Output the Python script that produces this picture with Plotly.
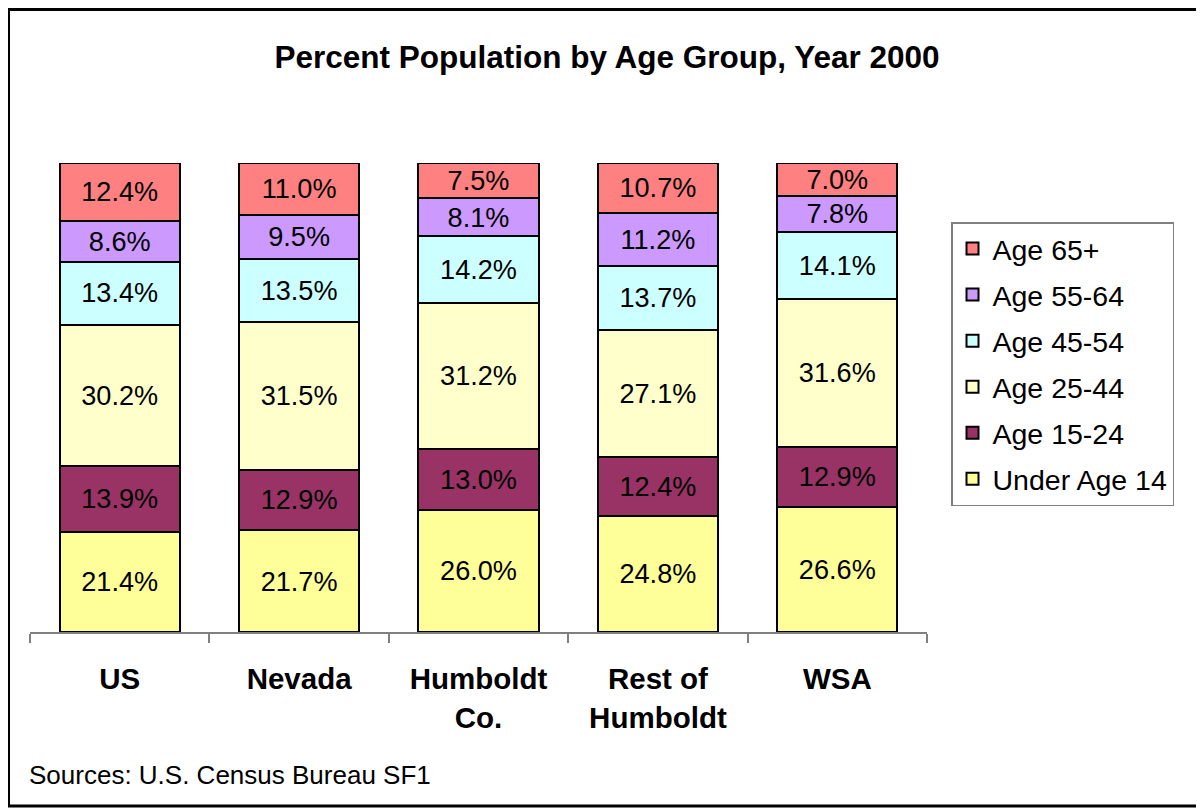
import plotly.graph_objects as go

categories = ["US", "Nevada", "Humboldt<br>Co.", "Rest of<br>Humboldt", "WSA"]
series_names = ["Under Age 14", "Age 15-24", "Age 25-44", "Age 45-54", "Age 55-64", "Age 65+"]
under_14 = [21.4, 21.7, 26.0, 24.8, 26.6]
age_15_24 = [13.9, 12.9, 13.0, 12.4, 12.9]
age_25_44 = [30.2, 31.5, 31.2, 27.1, 31.6]
age_45_54 = [13.4, 13.5, 14.2, 13.7, 14.1]
age_55_64 = [8.6, 9.5, 8.1, 11.2, 7.8]
age_65_plus = [12.4, 11.0, 7.5, 10.7, 7.0]
colors = ["#FFFF99", "#993366", "#FFFFCC", "#CCFFFF", "#CC99FF", "#FF8080"]

series_values = [under_14, age_15_24, age_25_44, age_45_54, age_55_64, age_65_plus]

FONT = "Liberation Sans, Arial, sans-serif"
W, H = 1204, 809
OFF = 8  # page body margin offset
# screen-space plot area
SX0, SX1, SY0, SY1 = 30, 927, 163, 632
L = SX0 - OFF
R = W - (SX1 - OFF)
T = SY0 - OFF
B = H - (SY1 - OFF)
PW = SX1 - SX0
PH = SY1 - SY0

def px_x(p):
    return (p - SX0) / PW

def px_y(p):
    return (SY1 - p) / PH

fig = go.Figure()
n = len(series_names)
for i, (name, vals, col) in enumerate(zip(series_names, series_values, colors)):
    fig.add_trace(go.Bar(
        x=categories, y=vals, name=name,
        marker=dict(color=col, line=dict(color="black", width=2)),
        text=[f"{v:.1f}%" for v in vals], texttemplate="%{text}",
        textposition="inside", insidetextanchor="middle", textangle=0,
        textfont=dict(family=FONT, size=27.5, color="black"),
        legendgroup=name, legendrank=1000 + (n - i),
    ))

fig.update_layout(
    width=W, height=H,
    barmode="stack", barnorm="percent", bargap=0.33,
    margin=dict(l=L, r=R, t=T, b=B, pad=0),
    paper_bgcolor="white", plot_bgcolor="white",
    font=dict(family=FONT, color="black"),
    uniformtext=dict(mode="show", minsize=27),
    title=dict(text="<b>Percent Population by Age Group, Year 2000</b>",
               x=(607 - OFF) / W, xanchor="center", y=1 - (57 - OFF) / H, yanchor="middle",
               font=dict(family=FONT, size=31.5, color="black")),
    legend=dict(x=px_x(951), xanchor="left", y=px_y(222), yanchor="top",
                traceorder="grouped", tracegroupgap=6,
                bordercolor="#808080", borderwidth=1.5, bgcolor="white",
                font=dict(family=FONT, size=28.5, color="black")),
    xaxis=dict(showline=True, linecolor="#808080", linewidth=1.5,
               ticks="outside", ticklen=9, tickcolor="#808080", tickwidth=1.5,
               tickson="boundaries", ticklabelstandoff=20,
               tickfont=dict(family=FONT, size=29.5, color="black"),
               tickprefix="<b>", ticksuffix="</b>",
               showgrid=False, zeroline=False, fixedrange=True),
    yaxis=dict(range=[0, 100], visible=False, showgrid=False, zeroline=False),
    showlegend=True,
)

fig.add_annotation(text="Sources: U.S. Census Bureau SF1", xref="paper", yref="paper",
                   x=px_x(27), y=px_y(775), xanchor="left", yanchor="middle",
                   showarrow=False, font=dict(family=FONT, size=26, color="black"))

fig.add_shape(type="rect", xref="paper", yref="paper",
              x0=px_x(8.5), x1=px_x(1215), y0=px_y(806), y1=px_y(9.5),
              line=dict(color="black", width=3), fillcolor="rgba(0,0,0,0)", layer="above")

fig.write_html("out.html")
